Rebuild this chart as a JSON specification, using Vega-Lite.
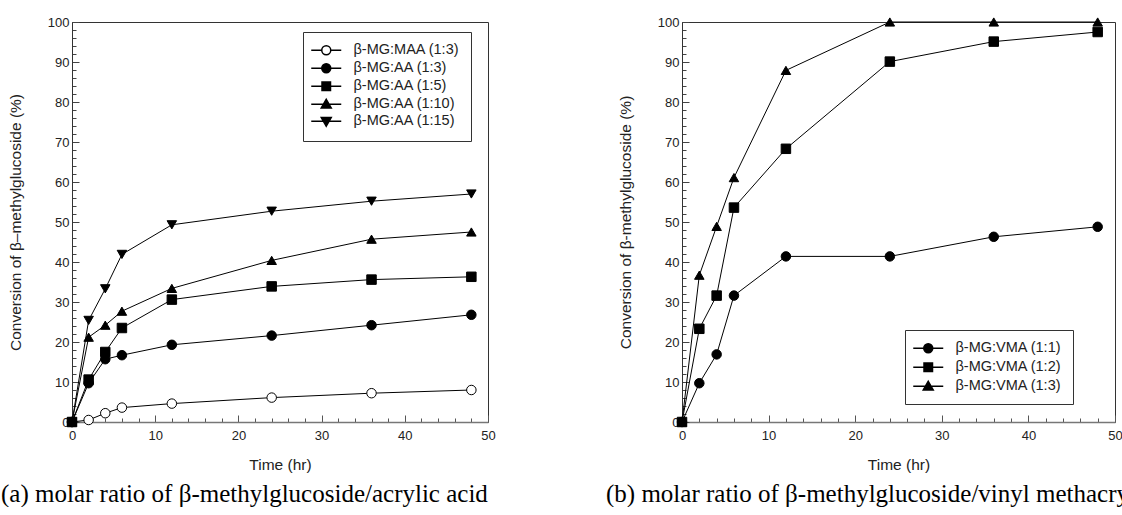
{
  "$schema": "https://vega.github.io/schema/vega-lite/v6.json",
  "autosize": {"type": "pad"},
  "padding": {"left": 0, "top": 15, "right": 0, "bottom": 0},
  "background": "white",
  "bounds": "flush",
  "spacing": 194,
  "resolve": {"scale": {"shape": "independent", "fill": "independent"}, "legend": {"shape": "independent", "fill": "independent"}},
  "datasets": {
    "left": [
      {"s": "β-MG:MAA (1:3)", "t": 0, "c": 0}, {"s": "β-MG:MAA (1:3)", "t": 2, "c": 0.5}, {"s": "β-MG:MAA (1:3)", "t": 4, "c": 2.2}, {"s": "β-MG:MAA (1:3)", "t": 6, "c": 3.6}, {"s": "β-MG:MAA (1:3)", "t": 12, "c": 4.6}, {"s": "β-MG:MAA (1:3)", "t": 24, "c": 6.1}, {"s": "β-MG:MAA (1:3)", "t": 36, "c": 7.2}, {"s": "β-MG:MAA (1:3)", "t": 48, "c": 8.0},
      {"s": "β-MG:AA (1:3)", "t": 0, "c": 0}, {"s": "β-MG:AA (1:3)", "t": 2, "c": 9.7}, {"s": "β-MG:AA (1:3)", "t": 4, "c": 15.7}, {"s": "β-MG:AA (1:3)", "t": 6, "c": 16.7}, {"s": "β-MG:AA (1:3)", "t": 12, "c": 19.3}, {"s": "β-MG:AA (1:3)", "t": 24, "c": 21.6}, {"s": "β-MG:AA (1:3)", "t": 36, "c": 24.2}, {"s": "β-MG:AA (1:3)", "t": 48, "c": 26.8},
      {"s": "β-MG:AA (1:5)", "t": 0, "c": 0}, {"s": "β-MG:AA (1:5)", "t": 2, "c": 10.6}, {"s": "β-MG:AA (1:5)", "t": 4, "c": 17.5}, {"s": "β-MG:AA (1:5)", "t": 6, "c": 23.5}, {"s": "β-MG:AA (1:5)", "t": 12, "c": 30.6}, {"s": "β-MG:AA (1:5)", "t": 24, "c": 33.9}, {"s": "β-MG:AA (1:5)", "t": 36, "c": 35.6}, {"s": "β-MG:AA (1:5)", "t": 48, "c": 36.3},
      {"s": "β-MG:AA (1:10)", "t": 0, "c": 0}, {"s": "β-MG:AA (1:10)", "t": 2, "c": 21.2}, {"s": "β-MG:AA (1:10)", "t": 4, "c": 24.2}, {"s": "β-MG:AA (1:10)", "t": 6, "c": 27.7}, {"s": "β-MG:AA (1:10)", "t": 12, "c": 33.4}, {"s": "β-MG:AA (1:10)", "t": 24, "c": 40.4}, {"s": "β-MG:AA (1:10)", "t": 36, "c": 45.7}, {"s": "β-MG:AA (1:10)", "t": 48, "c": 47.5},
      {"s": "β-MG:AA (1:15)", "t": 0, "c": 0}, {"s": "β-MG:AA (1:15)", "t": 2, "c": 25.4}, {"s": "β-MG:AA (1:15)", "t": 4, "c": 33.3}, {"s": "β-MG:AA (1:15)", "t": 6, "c": 41.9}, {"s": "β-MG:AA (1:15)", "t": 12, "c": 49.3}, {"s": "β-MG:AA (1:15)", "t": 24, "c": 52.7}, {"s": "β-MG:AA (1:15)", "t": 36, "c": 55.2}, {"s": "β-MG:AA (1:15)", "t": 48, "c": 57.0}
    ],
    "right": [
      {"s": "β-MG:VMA (1:1)", "t": 0, "c": 0}, {"s": "β-MG:VMA (1:1)", "t": 2, "c": 9.7}, {"s": "β-MG:VMA (1:1)", "t": 4, "c": 16.9}, {"s": "β-MG:VMA (1:1)", "t": 6, "c": 31.6}, {"s": "β-MG:VMA (1:1)", "t": 12, "c": 41.4}, {"s": "β-MG:VMA (1:1)", "t": 24, "c": 41.4}, {"s": "β-MG:VMA (1:1)", "t": 36, "c": 46.3}, {"s": "β-MG:VMA (1:1)", "t": 48, "c": 48.8},
      {"s": "β-MG:VMA (1:2)", "t": 0, "c": 0}, {"s": "β-MG:VMA (1:2)", "t": 2, "c": 23.3}, {"s": "β-MG:VMA (1:2)", "t": 4, "c": 31.6}, {"s": "β-MG:VMA (1:2)", "t": 6, "c": 53.6}, {"s": "β-MG:VMA (1:2)", "t": 12, "c": 68.3}, {"s": "β-MG:VMA (1:2)", "t": 24, "c": 90.1}, {"s": "β-MG:VMA (1:2)", "t": 36, "c": 95.1}, {"s": "β-MG:VMA (1:2)", "t": 48, "c": 97.5},
      {"s": "β-MG:VMA (1:3)", "t": 0, "c": 0}, {"s": "β-MG:VMA (1:3)", "t": 2, "c": 36.7}, {"s": "β-MG:VMA (1:3)", "t": 4, "c": 48.9}, {"s": "β-MG:VMA (1:3)", "t": 6, "c": 61.1}, {"s": "β-MG:VMA (1:3)", "t": 12, "c": 87.9}, {"s": "β-MG:VMA (1:3)", "t": 24, "c": 100}, {"s": "β-MG:VMA (1:3)", "t": 36, "c": 100}, {"s": "β-MG:VMA (1:3)", "t": 48, "c": 100}
    ]
  },
  "hconcat": [
    {
      "width": 416,
      "height": 400,
      "data": {"name": "left"},
      "title": {"text": "(a) molar ratio of β-methylglucoside/acrylic acid", "orient": "bottom", "anchor": "start", "frame": "group", "dx": -71, "offset": 9},
      "resolve": {"scale": {"shape": "independent", "fill": "independent"}, "legend": {"shape": "independent", "fill": "independent"}},
      "encoding": {
        "x": {"field": "t", "type": "quantitative", "scale": {"domain": [0, 50], "nice": false},
          "axis": {"title": "Time (hr)", "values": [0,2,4,6,8,10,12,14,16,18,20,22,24,26,28,30,32,34,36,38,40,42,44,46,48,50],
            "labelExpr": "datum.value % 10 === 0 ? datum.label : ''",
            "tickSize": {"condition": {"test": "datum.value % 10 === 0", "value": -7}, "value": -4},
            "labelPadding": 14, "titlePadding": 12, "domainColor": "#777", "domainWidth": 1.5, "tickColor": "#555"}},
        "y": {"field": "c", "type": "quantitative", "scale": {"domain": [0, 100], "nice": false},
          "axis": {"title": "Conversion of β–methylglucoside (%)", "values": [0,2,4,6,8,10,12,14,16,18,20,22,24,26,28,30,32,34,36,38,40,42,44,46,48,50,52,54,56,58,60,62,64,66,68,70,72,74,76,78,80,82,84,86,88,90,92,94,96,98,100],
            "labelExpr": "datum.value % 10 === 0 ? datum.label : ''",
            "tickSize": {"condition": {"test": "datum.value % 10 === 0", "value": -7}, "value": -4},
            "labelPadding": 10, "titlePadding": 24}}
      },
      "layer": [
        {"mark": {"type": "line", "color": "black", "strokeWidth": 1}, "encoding": {"detail": {"field": "s"}}},
        {"mark": {"type": "point", "filled": true, "stroke": "black", "strokeWidth": 1, "opacity": 1, "size": 90},
          "encoding": {
            "shape": {"field": "s", "type": "nominal",
              "scale": {"domain": ["β-MG:MAA (1:3)", "β-MG:AA (1:3)", "β-MG:AA (1:5)", "β-MG:AA (1:10)", "β-MG:AA (1:15)"], "range": ["circle", "circle", "square", "triangle-up", "triangle-down"]},
              "legend": null},
            "fill": {"field": "s", "type": "nominal",
              "scale": {"domain": ["β-MG:MAA (1:3)", "β-MG:AA (1:3)", "β-MG:AA (1:5)", "β-MG:AA (1:10)", "β-MG:AA (1:15)"], "range": ["white", "black", "black", "black", "black"]},
              "legend": null}
          }},
        {"mark": {"type": "point", "filled": true, "stroke": "black", "strokeWidth": 1, "opacity": 1, "size": 0},
          "encoding": {
            "shape": {"field": "s", "type": "nominal",
              "scale": {"domain": ["β-MG:MAA (1:3)", "β-MG:AA (1:3)", "β-MG:AA (1:5)", "β-MG:AA (1:10)", "β-MG:AA (1:15)"],
                "range": [
                  "M-3,0L-0.9,0M0.9,0L3,0M0.9,0C0.9,0.497 0.497,0.9 0,0.9C-0.497,0.9 -0.9,0.497 -0.9,0C-0.9,-0.497 -0.497,-0.9 0,-0.9C0.497,-0.9 0.9,-0.497 0.9,0Z",
                  "M-3,0L-0.9,0M0.9,0L3,0M0.9,0C0.9,0.497 0.497,0.9 0,0.9C-0.497,0.9 -0.9,0.497 -0.9,0C-0.9,-0.497 -0.497,-0.9 0,-0.9C0.497,-0.9 0.9,-0.497 0.9,0Z",
                  "M-3,0L3,0M-0.85,-0.85L0.85,-0.85L0.85,0.85L-0.85,0.85Z",
                  "M-3,0L3,0M0,-1L1,0.75L-1,0.75Z",
                  "M-3,0L3,0M0,1L1,-0.75L-1,-0.75Z"]},
              "legend": {"title": null, "orient": "none", "legendX": 231, "legendY": 10, "rowPadding": 2, "labelOffset": 20, "symbolOffset": 5,
                "encode": {"symbols": {"stroke": {"value": "black"}, "strokeWidth": {"value": 1}, "opacity": {"value": 1}, "size": {"value": 100}}}}},
            "fill": {"field": "s", "type": "nominal",
              "scale": {"domain": ["β-MG:MAA (1:3)", "β-MG:AA (1:3)", "β-MG:AA (1:5)", "β-MG:AA (1:10)", "β-MG:AA (1:15)"], "range": ["white", "black", "black", "black", "black"]},
              "legend": {"title": null, "orient": "none", "legendX": 231, "legendY": 10, "rowPadding": 2, "labelOffset": 20, "symbolOffset": 5,
                "encode": {"symbols": {"stroke": {"value": "black"}, "strokeWidth": {"value": 1}, "opacity": {"value": 1}, "size": {"value": 100}}}}}
          }}
      ]
    },
    {
      "width": 433,
      "height": 400,
      "data": {"name": "right"},
      "title": {"text": "(b) molar ratio of β-methylglucoside/vinyl methacry", "orient": "bottom", "anchor": "start", "frame": "group", "dx": -76, "offset": 9},
      "resolve": {"scale": {"shape": "independent"}, "legend": {"shape": "independent"}},
      "encoding": {
        "x": {"field": "t", "type": "quantitative", "scale": {"domain": [0, 50], "nice": false},
          "axis": {"title": "Time (hr)", "values": [0,2,4,6,8,10,12,14,16,18,20,22,24,26,28,30,32,34,36,38,40,42,44,46,48,50],
            "labelExpr": "datum.value % 10 === 0 ? datum.label : ''",
            "tickSize": {"condition": {"test": "datum.value % 10 === 0", "value": -7}, "value": -4},
            "labelPadding": 14, "titlePadding": 12, "domainColor": "#777", "domainWidth": 1.5, "tickColor": "#555"}},
        "y": {"field": "c", "type": "quantitative", "scale": {"domain": [0, 100], "nice": false},
          "axis": {"title": "Conversion of β-methylglucoside (%)", "values": [0,2,4,6,8,10,12,14,16,18,20,22,24,26,28,30,32,34,36,38,40,42,44,46,48,50,52,54,56,58,60,62,64,66,68,70,72,74,76,78,80,82,84,86,88,90,92,94,96,98,100],
            "labelExpr": "datum.value % 10 === 0 ? datum.label : ''",
            "tickSize": {"condition": {"test": "datum.value % 10 === 0", "value": -7}, "value": -4},
            "labelPadding": 10, "titlePadding": 24}}
      },
      "layer": [
        {"mark": {"type": "line", "color": "black", "strokeWidth": 1}, "encoding": {"detail": {"field": "s"}}},
        {"mark": {"type": "point", "filled": true, "stroke": "black", "strokeWidth": 1, "opacity": 1, "size": 90, "fill": "black"},
          "encoding": {
            "shape": {"field": "s", "type": "nominal",
              "scale": {"domain": ["β-MG:VMA (1:1)", "β-MG:VMA (1:2)", "β-MG:VMA (1:3)"], "range": ["circle", "square", "triangle-up"]},
              "legend": null}
          }},
        {"mark": {"type": "point", "filled": true, "stroke": "black", "strokeWidth": 1, "opacity": 1, "size": 0, "fill": "black"},
          "encoding": {
            "shape": {"field": "s", "type": "nominal",
              "scale": {"domain": ["β-MG:VMA (1:1)", "β-MG:VMA (1:2)", "β-MG:VMA (1:3)"],
                "range": [
                  "M-3,0L-0.9,0M0.9,0L3,0M0.9,0C0.9,0.497 0.497,0.9 0,0.9C-0.497,0.9 -0.9,0.497 -0.9,0C-0.9,-0.497 -0.497,-0.9 0,-0.9C0.497,-0.9 0.9,-0.497 0.9,0Z",
                  "M-3,0L3,0M-0.85,-0.85L0.85,-0.85L0.85,0.85L-0.85,0.85Z",
                  "M-3,0L3,0M0,-1L1,0.75L-1,0.75Z"]},
              "legend": {"title": null, "orient": "none", "legendX": 223, "legendY": 308, "rowPadding": 3, "labelOffset": 20, "symbolOffset": 5,
                "encode": {"symbols": {
                  "fill": {"value": "black"},
                  "stroke": {"value": "black"}, "strokeWidth": {"value": 1}, "opacity": {"value": 1}, "size": {"value": 100}}}}}
          }}
      ]
    }
  ],
  "config": {
    "view": {"stroke": "#333", "strokeWidth": 1},
    "axis": {"labelFont": "Liberation Sans", "titleFont": "Liberation Sans", "labelFontSize": 13, "titleFontSize": 15.5, "titleFontWeight": "normal", "labelColor": "#222", "titleColor": "#222", "domainColor": "#333", "tickColor": "#444", "grid": false, "labelFlush": false, "labelOverlap": false, "labelBound": false},
    "legend": {"labelFont": "Liberation Sans", "labelFontSize": 14.5, "labelColor": "#222", "strokeColor": "#333", "fillColor": "white", "padding": 11, "symbolSize": 100},
    "title": {"font": "Liberation Serif", "fontSize": 25, "fontWeight": "normal", "color": "black", "baseline": "top"}
  }
}
